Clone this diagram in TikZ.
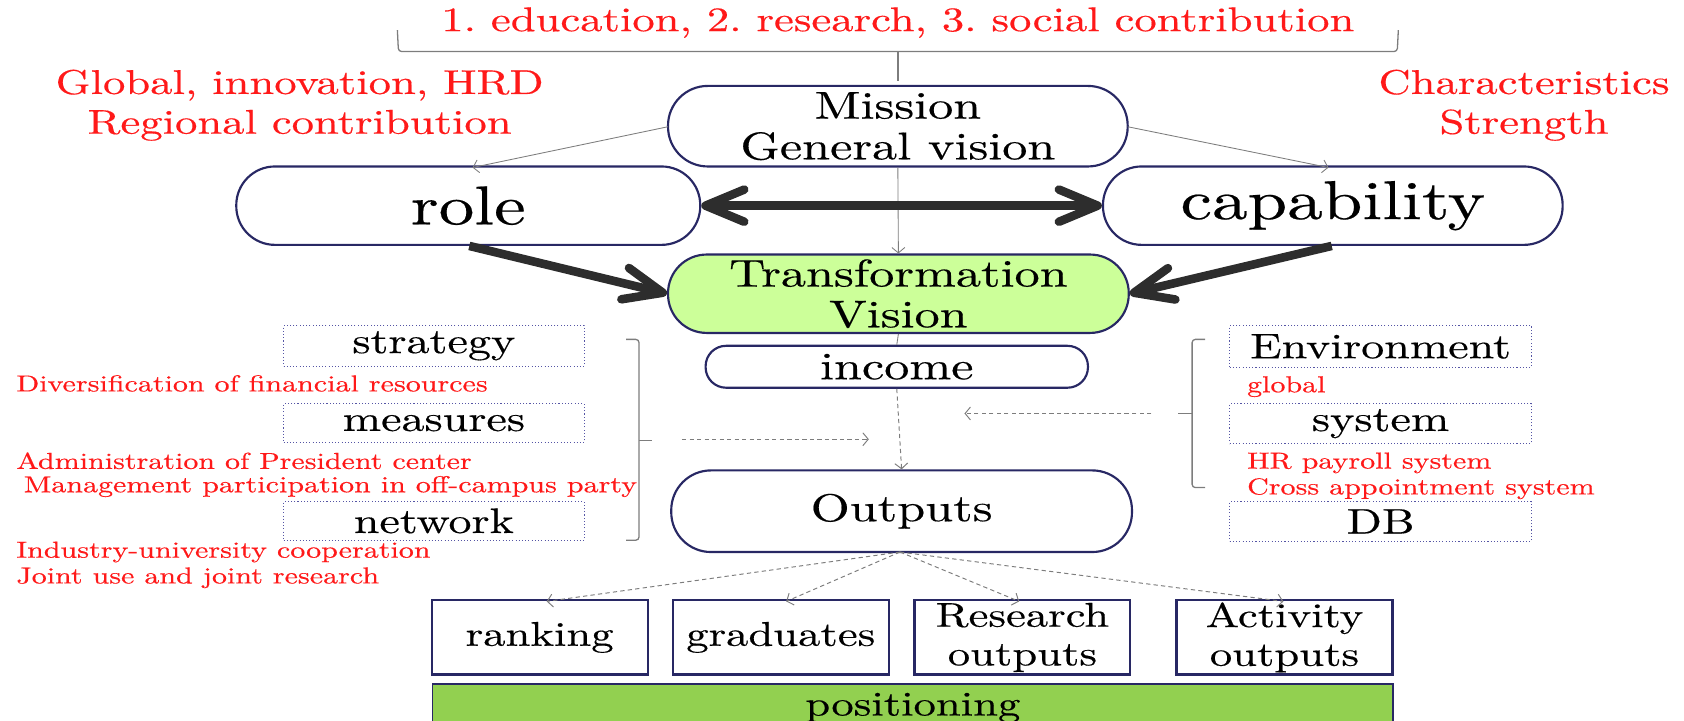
\documentclass[tikz,border=0pt]{standalone}
\usepackage{fontspec}
\setmainfont{lmroman10-regular.otf}[FakeStretch=1.3,FakeBold=0.4]
\usetikzlibrary{arrows.meta}
\frenchspacing
\definecolor{navy}{RGB}{40,40,100}
\definecolor{lgreen}{RGB}{204,255,153}
\definecolor{pgreen}{RGB}{146,208,80}
\definecolor{redtxt}{RGB}{255,25,25}
\definecolor{thickc}{RGB}{45,45,45}
\definecolor{thinc}{RGB}{125,125,125}
\definecolor{dotblue}{RGB}{85,85,165}
\newcommand\fBig{\fontsize{51}{56}\selectfont}
\newcommand\fBox{\fontsize{36}{38}\selectfont}
\newcommand\fSide{\fontsize{33}{36}\selectfont}
\newcommand\fBot{\fontsize{32}{36}\selectfont}
\newcommand\fRedL{\fontsize{32}{37}\selectfont}
\newcommand\fRedS{\fontsize{21.5}{24}\selectfont\frenchspacing}
\tikzset{
  stadium/.style={draw=navy, line width=2pt, fill=white, inner sep=0pt, align=center},
  dotbox/.style={draw=dotblue, line width=1pt, dotted, fill=white, inner sep=0pt,
     minimum height=38pt, font=\fSide},
  botbox/.style={draw=navy, line width=2pt, fill=white, inner sep=0pt, align=center,
     minimum width=201pt, minimum height=69pt, font=\fBot},
  redL/.style={text=redtxt, font=\fRedL\frenchspacing, align=center, inner sep=0pt},
  redS/.style={text=redtxt, font=\fRedS, anchor=west, inner sep=0pt},
  chev/.tip={Straight Barb[length=36pt,width=30pt,round]},
  thickarr/.style={draw=thickc, line width=8pt, -chev},
  thinarr/.style={draw=thinc, line width=0.8pt, -{Straight Barb[length=5pt,width=12pt]}},
  dasharr/.style={draw=thinc, line width=0.9pt, dash pattern=on 4pt off 3pt, -{Straight Barb[length=5pt,width=12pt]}},
  bracketline/.style={draw=thinc, line width=1.2pt, rounded corners=3pt},
}
\begin{document}
\begin{tikzpicture}[x=1pt, y=-1pt]
\useasboundingbox (0,0) rectangle (1568,671);
\clip (0,0) rectangle (1568,671);

% top brace and red texts
\node[redL] (edu) at (836,21) {1. education, 2. research, 3. social contribution};
\coordinate (braceTip) at (836,75);
\draw[bracketline] (370,28) -- (371,48) -- (1301,48) -- (1302,28);
\draw[bracketline] (836,48) -- (braceTip);
\node[redL] (global) at (279,98) {Global, innovation, HRD\\Regional contribution};
\node[redL] (charac) at (1419,98) {Characteristics\\Strength};

% main stadium boxes
\node[stadium, minimum width=428pt, minimum height=75pt, rounded corners=37pt, font=\fBox] (mission) at (836,117.5) {Mission\\General vision};
\node[stadium, minimum width=432pt, minimum height=73pt, rounded corners=36pt, font=\fBig] (role) at (436,191.5) {role};
\node[stadium, minimum width=428pt, minimum height=73pt, rounded corners=36pt, font=\fBig] (capability) at (1241,191.5) {capability};
\node[stadium, fill=lgreen, minimum width=429pt, minimum height=73pt, rounded corners=36pt, font=\fBox] (transformation) at (836.5,273.5) {Transformation\\Vision};
\node[stadium, minimum width=356pt, minimum height=39pt, rounded corners=19pt, font=\fBox] (income) at (835,341.5) {income};
\node[stadium, minimum width=429pt, minimum height=76pt, rounded corners=37pt, font=\fBox] (outputs) at (839.5,476) {Outputs};

% connectors among main boxes
\coordinate (mW) at (622,118);
\coordinate (mE) at (1050,118);
\draw[thinarr] (mW) -- (440,156) coordinate (roleTop);
\draw[thinarr] (mE) -- (1237,156) coordinate (capTop);
\draw[thinarr] (mission.south) -- (transformation.north);
\draw[thickarr, chev-chev] (role.east) -- (capability.west);
\coordinate (roleB) at (437,229);
\coordinate (capB) at (1240,229);
\draw[thickarr] (roleB) -- (transformation.west);
\draw[thickarr] (capB) -- (transformation.east);
\draw[draw=thinc, line width=0.8pt] (transformation.south) -- (income.north);
\draw[dasharr] (income.south) -- (outputs.north);

% left side
\node[dotbox, minimum width=280pt] (strategy) at (404,322) {strategy};
\node[dotbox, minimum width=280pt, minimum height=36pt] (measures) at (404,394) {measures};
\node[dotbox, minimum width=280pt, minimum height=36pt] (network) at (404,485) {network};
\node[redS] (div) at (15,357) {Diversification of financial resources};
\node[redS] (adm) at (15,429) {Administration of President center};
\node[redS] (mgt) at (22,453) {Management participation in off-campus party};
\node[redS] (ind) at (15,514) {Industry-university cooperation};
\node[redS] (joint) at (15,538) {Joint use and joint research};
\draw[bracketline] (583,316) -- (595,316) -- (595,503) -- (583,503);
\draw[bracketline] (595,410) -- (607,410) coordinate (lbTip);
\coordinate (lArrS) at (635,409);
\coordinate (lArrE) at (809,409);
\draw[dasharr] (lArrS) -- (lArrE);

% right side
\node[dotbox, minimum width=281pt, minimum height=39pt] (environment) at (1285.5,322.5) {Environment};
\node[dotbox, minimum width=281pt, minimum height=37pt] (system) at (1285.5,394.5) {system};
\node[dotbox, minimum width=281pt, minimum height=37pt] (db) at (1285.5,485.5) {DB};
\node[redS] (glob) at (1161,360) {global};
\node[redS] (hr) at (1161,431) {HR payroll system};
\node[redS] (cross) at (1161,455) {Cross appointment system};
\draw[bracketline] (1122,316) -- (1110,316) -- (1110,454) -- (1122,454);
\draw[bracketline] (1110,385) -- (1097,385) coordinate (rbTip);
\coordinate (rArrS) at (1072,385);
\coordinate (rArrE) at (898,385);
\draw[dasharr] (rArrS) -- (rArrE);

% bottom
\node[botbox] (ranking) at (502.5,593.5) {ranking};
\node[botbox] (graduates) at (727,593.5) {graduates};
\node[botbox] (research) at (952,593.5) {Research\\outputs};
\node[botbox] (activity) at (1196,593.5) {Activity\\outputs};
\node[draw=navy, line width=1.5pt, fill=pgreen, minimum width=894pt, minimum height=60pt, inner sep=0pt, anchor=north west] (positioning) at (402,636) {};
\node[font=\fBot, inner sep=0pt] (postext) at (850,659) {positioning};
\coordinate (oS) at (838,514);
\draw[dasharr] (oS) -- (509,560);
\draw[dasharr] (oS) -- (732,560);
\draw[dasharr] (oS) -- (949,560);
\draw[dasharr] (oS) -- (1195,560);
\end{tikzpicture}
\end{document}
